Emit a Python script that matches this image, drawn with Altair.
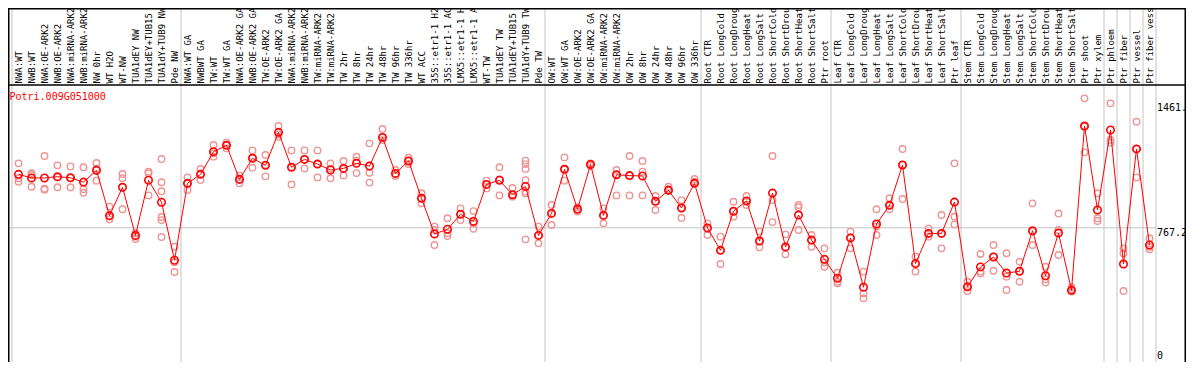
import altair as alt
import pandas as pd

title_text = "Potri.009G051000"

labels = [
    "NWA:WT", "NWB:WT", "NWA:OE-ARK2", "NWB:OE-ARK2", "NWA:miRNA-ARK2", "NWB:miRNA-ARK2",
    "NW 0hr", "WT H2O", "WT-NW", "TUA1dEY NW", "TUA1dEY+TUB15", "TUA1dY+TUB9 NW", "Pde NW",
    "NWA:WT GA", "NWBWT GA", "TW:WT", "TW:WT GA", "NWA:OE-ARK2 GA", "NWB:OE-ARK2 GA",
    "TW:OE-ARK2", "TW:OE-ARK2 GA", "NWA:miRNA-ARK2", "NWB:miRNA-ARK2", "TW:miRNA-ARK2",
    "TW:miRNA-ARK2", "TW 2hr", "TW 8hr", "TW 24hr", "TW 48hr", "TW 96hr", "TW 336hr",
    "WT ACC", "35S::etr1-1 H2", "35S::etr1-1 AC", "LMX5::etr1-1 H", "LMX5::etr1-1 A",
    "WT-TW", "TUA1dEY TW", "TUA1dEY+TUB15", "TUA1dY+TUB9 TW", "Pde TW",
    "OW:WT", "OW:WT GA", "OW:OE-ARK2", "OW:OE-ARK2 GA", "OW:miRNA-ARK2", "OW:miRNA-ARK2",
    "OW 2hr", "OW 8hr", "OW 24hr", "OW 48hr", "OW 96hr", "OW 336hr",
    "Root CTR", "Root LongCold", "Root LongDroug", "Root LongHeat", "Root LongSalt",
    "Root ShortCold", "Root ShortDrou", "Root ShortHeat", "Root ShortSalt", "Ptr root",
    "Leaf CTR", "Leaf LongCold", "Leaf LongDroug", "Leaf LongHeat", "Leaf LongSalt",
    "Leaf ShortCold", "Leaf ShortDrou", "Leaf ShortHeat", "Leaf ShortSalt", "Ptr leaf",
    "Stem CTR", "Stem LongCold", "Stem LongDroug", "Stem LongHeat", "Stem LongSalt",
    "Stem ShortCold", "Stem ShortDrou", "Stem ShortHeat", "Stem ShortSalt",
    "Ptr shoot", "Ptr xylem", "Ptr phloem", "Ptr fiber", "Ptr vessel", "Ptr fiber vess",
]

means = [
    1064, 1044, 1044, 1051, 1045, 1021, 1086, 835, 992, 725,
    1031, 909, 587, 1014, 1064, 1190, 1225, 1036, 1153, 1114,
    1297, 1103, 1147, 1121, 1088, 1097, 1125, 1110, 1269, 1069,
    1138, 931, 733, 759, 842, 803, 1008, 1031, 951, 997,
    725, 847, 1092, 870, 1119, 836, 1062, 1057, 1055, 914,
    975, 877, 1014, 766, 642, 859, 916, 694, 960, 661,
    838, 699, 592, 487, 711, 437, 788, 892, 1116, 568,
    736, 736, 910, 440, 550, 605, 516, 526, 751, 501,
    738, 420, 1332, 866, 1310, 566, 1205, 672,
]

replicates = [
    [1125, 1042, 1023], [1070, 1060, 995], [1166, 984, 979], [1114, 1047, 992],
    [1108, 1045, 992], [1103, 981, 962], [1127, 1097, 1029], [885, 829, 814],
    [1066, 1042, 870], [737, 718, 705], [1079, 1070, 947],
    [1149, 1020, 970, 827, 810, 716], [662, 576, 522], [1047, 1014, 977],
    [1094, 1064, 1033], [1227, 1181, 1162], [1240, 1225, 1208], [1057, 1036, 1014],
    [1197, 1158, 1101], [1171, 1116, 1053], [1332, 1286, 1273], [1197, 1103, 1008],
    [1197, 1147, 1097], [1197, 1121, 1047], [1125, 1095, 1042], [1138, 1095, 1058],
    [1162, 1140, 1071], [1236, 1073, 1018], [1316, 1269, 1254], [1088, 1066, 1055],
    [1156, 1138, 1121], [959, 931, 903], [774, 755, 672], [820, 737, 722],
    [875, 842, 810], [860, 792, 762], [1029, 1008, 986], [1103, 1036, 947],
    [988, 949, 940], [1140, 1121, 1094, 1032, 968, 958, 703], [774, 725, 681],
    [894, 847, 783], [1158, 1092, 1029], [881, 870, 857], [1125, 1119, 1110],
    [875, 836, 792], [1088, 1062, 947], [1166, 1057, 947], [1138, 1079, 947],
    [944, 914, 866], [995, 982, 975], [921, 877, 822], [1038, 1023, 1014],
    [792, 766, 727], [718, 642, 566], [912, 859, 829], [944, 916, 894],
    [746, 694, 659], [1166, 921, 799], [731, 661, 620], [894, 881, 755],
    [727, 699, 662], [653, 574, 551], [518, 468, 459], [746, 711, 653],
    [524, 403, 376], [870, 774, 727], [931, 894, 870], [1205, 1116, 927],
    [607, 570, 524], [764, 736, 718], [838, 736, 653], [1125, 829, 786],
    [468, 440, 416], [622, 524, 514], [672, 607, 529], [626, 496, 422],
    [579, 526, 468], [903, 746, 672], [551, 481, 463], [847, 755, 616],
    [437, 426, 413], [1486, 1329, 1186], [959, 820, 805], [1458, 1255, 1240],
    [653, 625, 416], [1356, 1205, 1047], [709, 662, 648],
]

# group separators (between category indices)
separators = [-0.5, 12.5, 40.5, 52.5, 62.5, 72.5, 83.5, 84.5, 85.5, 86.5, 87.5]

axis_values = [1461, 767.2]
axis_texts = ["1461.", "767.2"]
zero_text = ["0"]
mid_line = [767.2]

W, H = 1178, 354
RED = "#ff0000"
REP = "#ee9494"
GRAY = "#c4c4c4"
MONO = "DejaVu Sans Mono"

xs = alt.Scale(domain=[0, 87], range=[10.5, 10.5 + 13 * 87], nice=False, zero=False)
ys = alt.Scale(domain=[0, 1534.4], range=[358, 81.6], nice=False, zero=False)

mean_df = pd.DataFrame({"i": list(range(len(means))), "v": means, "label": labels})
rep_rows = [{"i": i, "v": v} for i, vals in enumerate(replicates) for v in vals]
rep_df = pd.DataFrame(rep_rows)
sep_df = pd.DataFrame({"b": separators})
one = pd.DataFrame({"a": [0]})

X = lambda f: alt.X(f, scale=xs, axis=None)
Y = lambda f: alt.Y(f, scale=ys, axis=None)

vlines = alt.Chart(sep_df).mark_rule(color=GRAY, strokeWidth=1).encode(
    x=X("b:Q"), y=alt.value(0), y2=alt.value(H)
)
hline = alt.Chart(pd.DataFrame({"v": mid_line})).mark_rule(color=GRAY, strokeWidth=1).encode(
    y=Y("v:Q"), x=alt.value(0), x2=alt.value(1148)
)
top_border = alt.Chart(one).mark_rule(color="black", strokeWidth=1.5).encode(
    y=alt.value(0.75), x=alt.value(0), x2=alt.value(W)
)
sep_border = alt.Chart(one).mark_rule(color="black", strokeWidth=1.5).encode(
    y=alt.value(77), x=alt.value(0), x2=alt.value(W)
)
left_border = alt.Chart(one).mark_rule(color="black", strokeWidth=1.5).encode(
    x=alt.value(0.75), y=alt.value(0), y2=alt.value(H)
)
right_border = alt.Chart(one).mark_rule(color="black", strokeWidth=1.5).encode(
    x=alt.value(W - 0.75), y=alt.value(0), y2=alt.value(H)
)

reps = alt.Chart(rep_df).mark_point(
    shape="circle", filled=False, size=42, strokeWidth=1.4, color=REP, opacity=1
).encode(x=X("i:Q"), y=Y("v:Q"))

line = alt.Chart(mean_df).mark_line(color=RED, strokeWidth=1).encode(
    x=X("i:Q"), y=Y("v:Q")
)
pts = alt.Chart(mean_df).mark_point(
    shape="circle", filled=False, size=55, strokeWidth=1.6, color=RED, opacity=1
).encode(x=X("i:Q"), y=Y("v:Q"))

cat_text = alt.Chart(mean_df).mark_text(
    angle=270, align="left", baseline="middle", font=MONO, fontSize=9, color="black"
).encode(x=X("i:Q"), y=alt.value(75.5), text="label:N")

title = alt.Chart(pd.DataFrame({"t": [title_text]})).mark_text(
    align="left", baseline="middle", font=MONO, fontSize=10, color=RED
).encode(x=alt.value(1.5), y=alt.value(88.5), text="t:N")

ax_text = alt.Chart(pd.DataFrame({"v": axis_values, "t": axis_texts})).mark_text(
    align="left", baseline="top", font=MONO, fontSize=10, color="black"
).encode(x=alt.value(1149), y=Y("v:Q"), text="t:N")

zero_lbl = alt.Chart(pd.DataFrame({"t": zero_text})).mark_text(
    align="left", baseline="bottom", font=MONO, fontSize=10, color="black"
).encode(x=alt.value(1149), y=alt.value(H - 1), text="t:N")

chart = alt.layer(
    vlines, hline, reps, line, pts, cat_text, title, ax_text, zero_lbl,
    top_border, sep_border, left_border, right_border,
).properties(
    width=W, height=H, autosize=alt.AutoSizeParams(type="none"), padding=0,
    background="white",
).configure_view(stroke=None)

chart.save("out.html", embed_options={"renderer": "svg", "actions": False})
